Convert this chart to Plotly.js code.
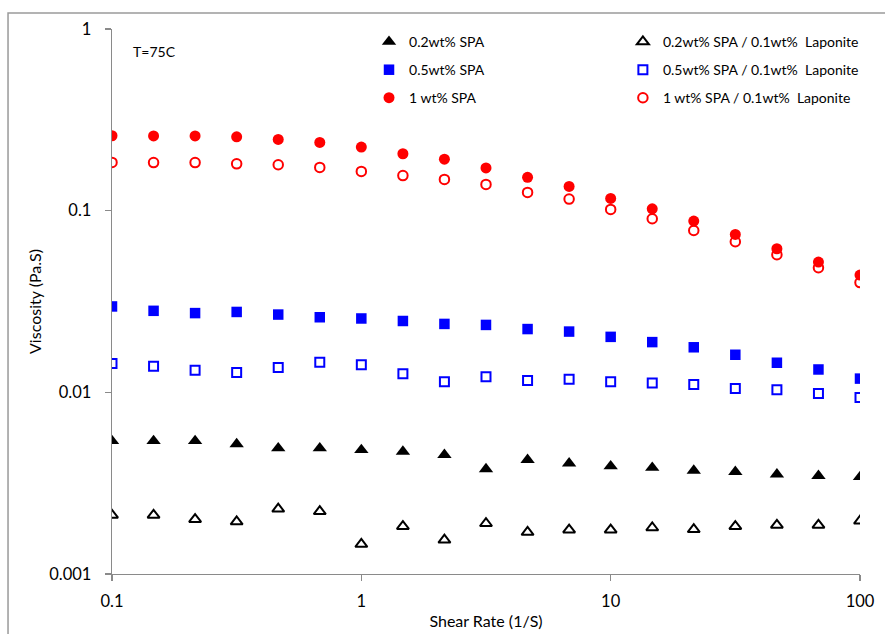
<!DOCTYPE html>
<html>
<head>
<meta charset="utf-8">
<script src="https://cdn.plot.ly/plotly-3.0.1.min.js"></script>
<style>html,body{margin:0;padding:0;background:#fff;}#chart{width:885px;height:634px;}</style>
</head>
<body>
<div id="chart"></div>
<script>
// Shear rate (1/S)
const shearRate = [0.1, 0.1468, 0.2154, 0.3162, 0.4642, 0.6813, 1, 1.468, 2.154, 3.162, 4.642, 6.813, 10, 14.68, 21.54, 31.62, 46.42, 68.13, 100];

// Viscosity (Pa.S)
const spa02 = [0.0054, 0.0054, 0.0054, 0.00519, 0.00493, 0.00493, 0.00482, 0.00472, 0.00453, 0.00378, 0.00425, 0.00407, 0.00392, 0.00385, 0.00371, 0.00365, 0.00354, 0.00347, 0.00342];
const spa05 = [0.0297, 0.0281, 0.0273, 0.0277, 0.0268, 0.0259, 0.0255, 0.0247, 0.0238, 0.0235, 0.0223, 0.0216, 0.0202, 0.0189, 0.0177, 0.0161, 0.01455, 0.01336, 0.0119];
const spa1 = [0.2585, 0.258, 0.258, 0.255, 0.2466, 0.2375, 0.224, 0.2057, 0.192, 0.172, 0.1525, 0.136, 0.1167, 0.1024, 0.0877, 0.074, 0.0617, 0.0521, 0.0442];
const spa02Lap = [0.00211, 0.00211, 0.0020, 0.00194, 0.00228, 0.00221, 0.00146, 0.00183, 0.00154, 0.0019, 0.0017, 0.00175, 0.00175, 0.0018, 0.00176, 0.00183, 0.00186, 0.00186, 0.00196];
const spa05Lap = [0.01441, 0.01394, 0.01325, 0.01286, 0.0137, 0.01466, 0.01417, 0.01265, 0.01143, 0.01217, 0.01161, 0.01182, 0.01143, 0.01124, 0.01104, 0.0105, 0.01033, 0.00985, 0.00936];
const spa1Lap = [0.1843, 0.184, 0.184, 0.181, 0.179, 0.173, 0.1644, 0.156, 0.1486, 0.1395, 0.126, 0.1158, 0.1016, 0.0902, 0.0778, 0.0674, 0.0572, 0.0485, 0.0402];

const seriesNames = ["0.2wt% SPA", "0.5wt% SPA", "1 wt% SPA",
  "0.2wt% SPA / 0.1wt%  Laponite", "0.5wt% SPA / 0.1wt%  Laponite", "1 wt% SPA / 0.1wt%  Laponite"];

const xTickVals = [0.1, 1, 10, 100];
const xTickText = ["0.1", "1", "10", "100"];
const yTickVals = [0.001, 0.01, 0.1, 1];
const yTickText = ["0.001", "0.01", "0.1", "1"];

const FONT = "Lato, 'Open Sans', sans-serif";

function mk(y, name, symbol, color, size, leg, grp) {
  return {
    x: shearRate, y: y, name: name, type: 'scatter', mode: 'markers',
    legend: leg, legendgroup: grp,
    marker: {symbol: symbol, color: color, size: size, line: {width: symbol.indexOf('open') >= 0 ? 2 : 0, color: color}}
  };
}

const data = [
  mk(spa02, seriesNames[0], 'triangle-up', '#000000', 12.5, 'legend', 'g1'),
  mk(spa05, seriesNames[1], 'square', '#0000FF', 10.5, 'legend', 'g2'),
  mk(spa1, seriesNames[2], 'circle', '#FF0000', 11, 'legend', 'g3'),
  mk(spa02Lap, seriesNames[3], 'triangle-up-open', '#000000', 10.5, 'legend2', 'g4'),
  mk(spa05Lap, seriesNames[4], 'square-open', '#0000FF', 9, 'legend2', 'g5'),
  mk(spa1Lap, seriesNames[5], 'circle-open', '#FF0000', 9.5, 'legend2', 'g6')
];

const legendCommon = {
  yanchor: 'top', xanchor: 'left', bgcolor: 'rgba(0,0,0,0)', borderwidth: 0,
  font: {family: FONT, size: 14, color: '#000'}, traceorder: 'grouped', tracegroupgap: 6.8,
  itemwidth: 30
};

const layout = {
  width: 885, height: 634,
  margin: {l: 112, r: 25, t: 29, b: 60, autoexpand: false},
  paper_bgcolor: '#ffffff', plot_bgcolor: '#ffffff',
  font: {family: FONT, color: '#000'},
  showlegend: true,
  legend: Object.assign({x: 0.3436, y: 1.0053}, legendCommon),
  legend2: Object.assign({x: 0.683, y: 1.0053}, legendCommon),
  xaxis: {
    type: 'log', range: [-1, 2],
    tickvals: xTickVals, ticktext: xTickText,
    showgrid: false, zeroline: false, showline: true, linecolor: '#8a8a8a', linewidth: 1.3,
    ticks: 'outside', ticklen: 6, tickcolor: '#8a8a8a', tickwidth: 1.3,
    ticklabelstandoff: 6,
    tickfont: {family: FONT, size: 16.5, color: '#000'},
    title: {text: 'Shear Rate (1/S)', font: {family: FONT, size: 16, color: '#000'}, standoff: 5}
  },
  yaxis: {
    type: 'log', range: [-3, 0],
    tickvals: yTickVals, ticktext: yTickText,
    showgrid: false, zeroline: false, showline: true, linecolor: '#8a8a8a', linewidth: 1.3,
    ticks: 'outside', ticklen: 6, tickcolor: '#8a8a8a', tickwidth: 1.3,
    ticklabelstandoff: 10,
    tickfont: {family: FONT, size: 16.5, color: '#000'},
    title: {text: 'Viscosity (Pa.S)', font: {family: FONT, size: 16, color: '#000'}, standoff: 3}
  },
  annotations: [{
    text: 'T=75C', xref: 'paper', yref: 'paper', x: 0.025, y: 0.958,
    xanchor: 'left', yanchor: 'middle', showarrow: false,
    font: {family: FONT, size: 14, color: '#000'}
  }],
  shapes: [{
    type: 'rect', xref: 'paper', yref: 'paper', x0: -0.139, x1: 1.2, y0: -0.3, y1: 1.0294,
    line: {color: '#9a9a9a', width: 1.5}, fillcolor: 'rgba(0,0,0,0)', layer: 'below'
  }]
};

Plotly.newPlot('chart', data, layout, {staticPlot: true, displayModeBar: false});
</script>
</body>
</html>
